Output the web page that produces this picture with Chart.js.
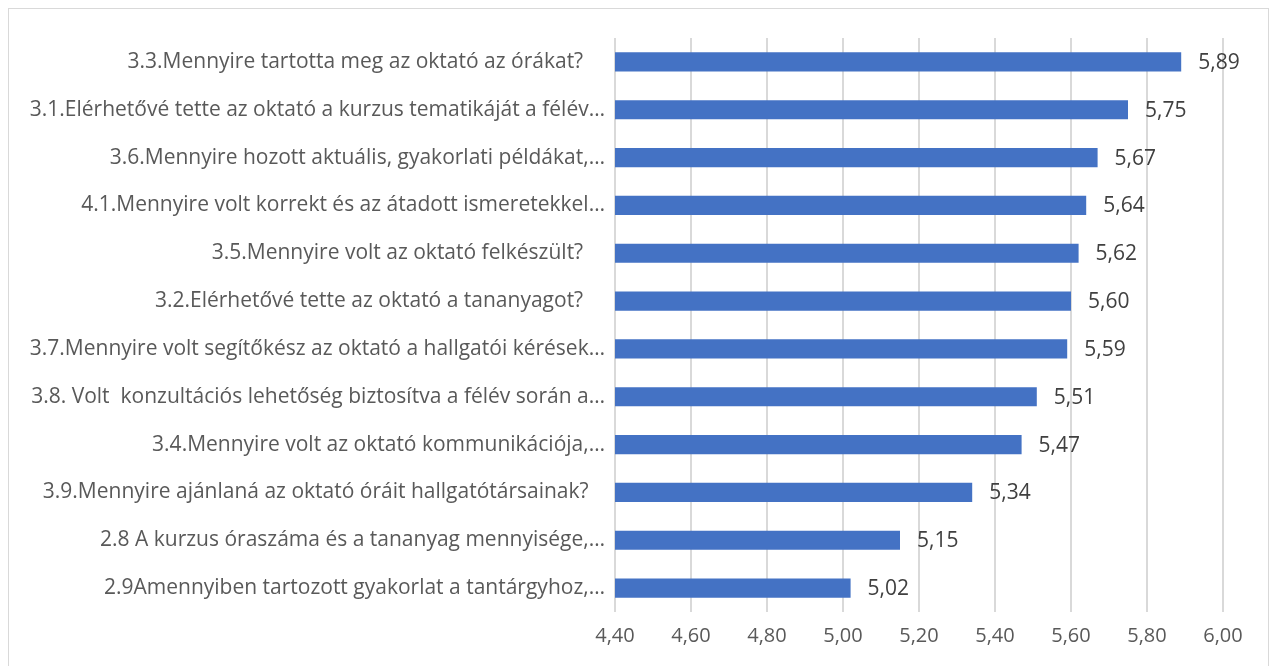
<!DOCTYPE html>
<html>
<head>
<meta charset="utf-8">
<script src="https://cdn.jsdelivr.net/npm/chart.js@4"></script>
<style>
    body { margin: 0; background: #fff; }
    #keret {
        position: absolute; left: 8px; top: 8px; width: 1261px; height: 670px;
        border: 1px solid #d9d9d9; box-sizing: border-box;
    }
    #grafikon { position: absolute; left: 0; top: 0; }
</style>
</head>
<body>
<div id="keret"></div>
<canvas id="grafikon" width="1274" height="666"></canvas>
<script>
// kérdések és átlagok (a kérdőjeles címkék végén szóközök vannak, mint az eredetiben)
const kerdesek = [
    "3.3.Mennyire tartotta meg az oktató az órákat?    ",
    "3.1.Elérhetővé tette az oktató a kurzus tematikáját a félév…",
    "3.6.Mennyire hozott aktuális, gyakorlati példákat,…",
    "4.1.Mennyire volt korrekt és az átadott ismeretekkel…",
    "3.5.Mennyire volt az oktató felkészült?    ",
    "3.2.Elérhetővé tette az oktató a tananyagot?    ",
    "3.7.Mennyire volt segítőkész az oktató a hallgatói kérések…",
    "3.8. Volt  konzultációs lehetőség biztosítva a félév során a…",
    "3.4.Mennyire volt az oktató kommunikációja,…",
    "3.9.Mennyire ajánlaná az oktató óráit hallgatótársainak?   ",
    "2.8 A kurzus óraszáma és a tananyag mennyisége,…",
    "2.9Amennyiben tartozott gyakorlat a tantárgyhoz,…"
];
const atlagok = [5.89, 5.75, 5.67, 5.64, 5.62, 5.60, 5.59, 5.51, 5.47, 5.34, 5.15, 5.02];

const tengelyMin = 4.4;
const tengelyMax = 6.0;
const tengelyLepes = 0.2;

const betu = "'Open Sans', Lato, sans-serif";

// értékcímkék a sávok végén
const ertekCimkek = {
    id: "ertekCimkek",
    afterDatasetsDraw(chart) {
        const ctx = chart.ctx;
        const meta = chart.getDatasetMeta(0);
        ctx.save();
        ctx.font = "21px " + betu;
        ctx.fillStyle = "#404040";
        ctx.textAlign = "left";
        ctx.textBaseline = "middle";
        meta.data.forEach((bar, i) => {
            ctx.fillText(atlagok[i].toFixed(2).replace(".", ","), bar.x + 17, bar.y + 1);
        });
        ctx.restore();
    }
};

new Chart(document.getElementById("grafikon").getContext("2d"), {
    type: "bar",
    data: {
        labels: kerdesek,
        datasets: [{
            data: atlagok,
            backgroundColor: "#4472C4",
            borderWidth: 0,
            barPercentage: 0.4,
            categoryPercentage: 1
        }]
    },
    options: {
        indexAxis: "y",
        responsive: false,
        animation: false,
        devicePixelRatio: 1,
        layout: { padding: { left: 0, right: 51, top: 38, bottom: 0 } },
        plugins: { legend: { display: false }, tooltip: { enabled: false } },
        scales: {
            x: {
                min: tengelyMin,
                max: tengelyMax,
                afterFit: (s) => { s.height = 54; },
                grid: { color: "#d9d9d9", lineWidth: 2, drawTicks: false },
                border: { display: false },
                ticks: {
                    stepSize: tengelyLepes,
                    padding: 12,
                    color: "#595959",
                    font: { family: betu, size: 20 },
                    callback: (v) => v.toFixed(2).replace(".", ",")
                }
            },
            y: {
                afterFit: (s) => { s.width = 615; },
                grid: { display: false, drawTicks: false },
                border: { display: false },
                ticks: {
                    padding: 10,
                    color: "#595959",
                    font: { family: betu, size: 21 }
                }
            }
        }
    },
    plugins: [ertekCimkek]
});
</script>
</body>
</html>
